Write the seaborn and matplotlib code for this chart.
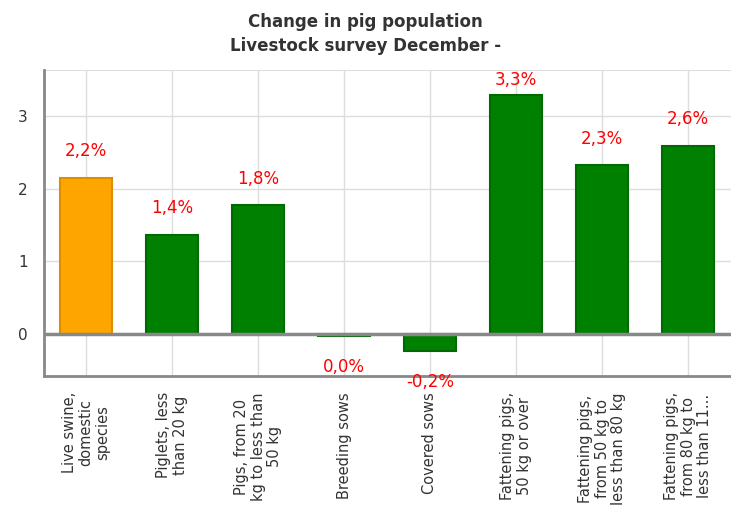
import pandas as pd
import matplotlib
matplotlib.use('Agg')
import matplotlib.pyplot as plt
import seaborn as sns

# chart data
categories = ['Live swine,\ndomestic\nspecies', 'Piglets, less\nthan 20 kg',
              'Pigs, from 20\nkg to less than\n50 kg', 'Breeding sows', 'Covered sows',
              'Fattening pigs,\n50 kg or over', 'Fattening pigs,\nfrom 50 kg to\nless than 80 kg',
              'Fattening pigs,\nfrom 80 kg to\nless than 11...']
values = [2.15, 1.36, 1.77, -0.02, -0.23, 3.29, 2.32, 2.59]
labels = ['2,2%', '1,4%', '1,8%', '0,0%', '-0,2%', '3,3%', '2,3%', '2,6%']
groups = ['total', 'part', 'part', 'part', 'part', 'part', 'part', 'part']

df = pd.DataFrame({'category': categories, 'value': values, 'group': groups})

sns.set_style('white')
plt.rcParams['font.family'] = ['DejaVu Sans']

fig = plt.figure(figsize=(7.31, 5.05), dpi=100)
ax = fig.add_axes([0.060, 0.255, 0.94, 0.606])

palette = {'total': '#FFA500', 'part': '#008000'}
sns.barplot(data=df, x='category', y='value', hue='group', palette=palette,
            dodge=False, width=0.6, saturation=1, legend=False, ax=ax, zorder=3)

edges = {'total': '#DB8E00', 'part': '#006A00'}
for patch, g in zip(ax.patches, groups):
    patch.set_edgecolor(edges[g])
    patch.set_linewidth(1.5)

ymin, ymax = -0.58, 3.63

# value labels, kept inside the plot area at the top
for i, (v, lab) in enumerate(zip(values, labels)):
    if v >= 0.05:
        y = min(v + 0.37, 3.49)
    else:
        y = v - 0.43
    ax.text(i, y, lab, ha='center', va='center', color='red', fontsize=12,
            zorder=6, clip_on=False)

ax.set_xlim(-0.49, 7.5)
ax.set_ylim(ymin, ymax)
ax.set_yticks([0, 1, 2, 3])
ax.grid(True, color='#dddddd', linewidth=1, zorder=0)
ax.axhline(0, color='#888888', linewidth=2.5, zorder=4)

for s in ['top', 'right']:
    ax.spines[s].set_visible(False)
for s in ['left', 'bottom']:
    ax.spines[s].set_color('#888888')
    ax.spines[s].set_linewidth(2)
ax.axhline(ymax, color='#dddddd', linewidth=1.5, zorder=0)

ax.tick_params(axis='both', direction='out', length=8, width=2, color='#aaaaaa',
               labelcolor='#333333', labelsize=10)
ax.tick_params(axis='y', labelsize=11)
ax.set_xticks(range(len(categories)))
ax.set_xticklabels(categories, rotation=90, ha='center', va='top', fontsize=10.5,
                   linespacing=1.1)
ax.set_xlabel('')
ax.set_ylabel('')

fig.suptitle('Change in pig population\nLivestock survey December -', fontsize=12,
             fontweight='bold', color='#333333', y=0.975, linespacing=1.45)

fig.savefig('out.png', dpi=100)
